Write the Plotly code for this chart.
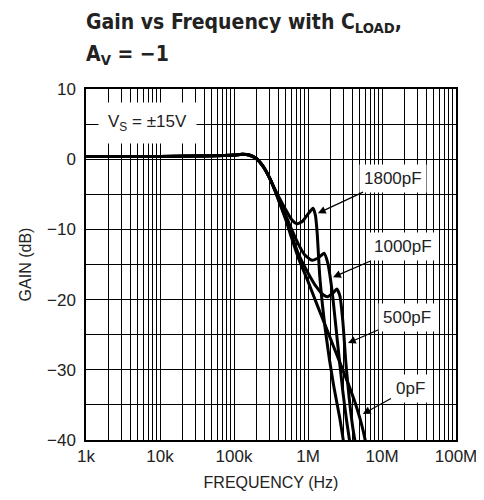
import math
import plotly.graph_objects as go

# ---- data ----
f_0 = [1e3, 1e4, 3e4, 1e5, 1.3e5, 1.6e5, 2e5, 2.5e5, 3e5, 3.5e5, 4e5, 5e5, 6e5, 7.5e5,
       1e6, 1.3e6, 1.7e6, 2.2e6, 2.8e6, 3.5e6, 4.3e6, 5e6, 5.6e6, 6.2e6]
g_0 = [0.4, 0.4, 0.45, 0.6, 0.7, 0.6, 0.1, -1.1, -2.6, -4.2, -5.8, -8.6, -11.2, -14.2,
       -17.4, -20.5, -23.6, -26.6, -29.4, -32.0, -34.6, -36.8, -38.8, -41.0]

f_500 = [1e3, 1e4, 3e4, 1e5, 1.3e5, 1.6e5, 2e5, 2.5e5, 3e5, 3.5e5, 4e5, 5e5, 6e5, 7.5e5,
         1e6, 1.3e6, 1.6e6, 1.85e6, 2.2e6, 2.45e6, 2.7e6, 2.95e6, 3.25e6, 3.6e6, 4.0e6, 4.45e6]
g_500 = [0.4, 0.4, 0.45, 0.6, 0.7, 0.6, 0.1, -1.1, -2.6, -4.2, -5.8, -8.4, -10.8, -13.6,
         -16.2, -18.2, -19.3, -19.6, -19.0, -18.5, -19.5, -23.0, -29.0, -34.0, -38.0, -41.0]

f_1000 = [1e3, 1e4, 3e4, 1e5, 1.3e5, 1.6e5, 2e5, 2.5e5, 3e5, 3.5e5, 4e5, 5e5, 6e5, 7.5e5,
          9e5, 1.13e6, 1.4e6, 1.65e6, 1.85e6, 2.1e6, 2.5e6, 2.95e6, 3.3e6, 3.75e6]
g_1000 = [0.4, 0.4, 0.45, 0.6, 0.7, 0.6, 0.1, -1.1, -2.6, -4.2, -5.6, -8.0, -10.0, -12.2,
          -13.6, -14.4, -14.0, -13.4, -14.8, -18.5, -26.0, -33.0, -37.0, -41.0]

f_1800 = [1e3, 1e4, 3e4, 1e5, 1.3e5, 1.6e5, 2e5, 2.5e5, 3e5, 3.5e5, 4e5, 5e5, 6e5, 7.1e5,
          8.5e5, 1e6, 1.17e6, 1.26e6, 1.33e6, 1.45e6, 1.75e6, 2.2e6, 2.7e6, 3.1e6]
g_1800 = [0.4, 0.4, 0.45, 0.6, 0.7, 0.6, 0.1, -1.1, -2.6, -4.1, -5.3, -7.2, -8.6, -9.2,
          -8.8, -7.8, -7.0, -8.0, -10.5, -17.0, -25.0, -32.0, -37.0, -41.0]

series = [("0pF", f_0, g_0), ("500pF", f_500, g_500),
          ("1000pF", f_1000, g_1000), ("1800pF", f_1800, g_1800)]

# label text position (Hz, dB) and arrow tip (Hz, dB)
label_names = ["1800pF", "1000pF", "500pF", "0pF"]
label_f = [14.1e6, 19.2e6, 21.8e6, 23.9e6]
label_g = [-2.7, -12.5, -22.5, -32.6]
tip_f = [1.36e6, 2.18e6, 3.47e6, 5.5e6]
tip_g = [-7.7, -16.8, -26.2, -36.3]

x_major = [1e3, 1e4, 1e5, 1e6, 1e7, 1e8]
x_major_text = ["1k", "10k", "100k", "1M", "10M", "100M"]
y_ticks = [10, 5, 0, -5, -10, -15, -20, -25, -30, -35, -40]
y_text = ["10", "", "0", "", "\u221210", "", "\u221220", "", "\u221230", "", "\u221240"]

title_line1 = "<b>Gain vs Frequency with C<sub>LOAD</sub>,</b>"
title_line2 = "<b>A<sub>V</sub> = \u22121</b>"

# ---- figure ----
x_tickvals, x_ticktext = [], []
for i, d in enumerate(x_major):
    x_tickvals.append(d)
    x_ticktext.append(x_major_text[i])
    if i < len(x_major) - 1:
        for m in range(2, 10):
            x_tickvals.append(d * m)
            x_ticktext.append("")

fig = go.Figure()
for name, fx, gy in series:
    fig.add_trace(go.Scatter(x=fx, y=gy, mode="lines", name=name,
                             line=dict(color="black", width=3, shape="spline", smoothing=0.6),
                             showlegend=False))

FONT = "Liberation Sans, Arial, sans-serif"
TFONT = "DejaVu Sans Condensed, sans-serif"

# page body has an 8px margin: target plot area x 86..456, y 89..440 on screen
L, T, R, B = 78, 81, 36, 68
PW, PH = 484 - L - R, 500 - T - B

def px_to_paper(px, py):
    return (px - 8 - L) / PW, 1 - (py - 8 - T) / PH

annotations = []
for n, lf, lg, tf, tg in zip(label_names, label_f, label_g, tip_f, tip_g):
    annotations.append(dict(
        x=math.log10(tf), y=tg, xref="x", yref="y",
        ax=math.log10(lf), ay=lg, axref="x", ayref="y",
        text=n, showarrow=True, arrowhead=2, arrowsize=1.3, arrowwidth=1.2,
        arrowcolor="black", bgcolor="white", borderpad=4,
        font=dict(family=FONT, size=17, color="#222")))

annotations.append(dict(
    x=math.log10(6.88e3), y=5.16, xref="x", yref="y", showarrow=False,
    text="V<sub>S</sub> = \u00b115V", bgcolor="white", borderpad=9,
    font=dict(family=FONT, size=17, color="#222")))

for txt, (tx, ty) in [(title_line1, px_to_paper(84, 23)), (title_line2, px_to_paper(84, 55))]:
    annotations.append(dict(
        x=tx, y=ty, xref="paper", yref="paper", xanchor="left", yanchor="middle",
        showarrow=False, text=txt,
        font=dict(family=TFONT, size=21, color="#222")))

fig.update_layout(
    width=484, height=500,
    margin=dict(l=L, r=R, t=T, b=B, autoexpand=False),
    paper_bgcolor="white", plot_bgcolor="white",
    annotations=annotations,
    xaxis=dict(type="log", range=[3, 8], tickvals=x_tickvals, ticktext=x_ticktext,
               showgrid=True, gridcolor="black", gridwidth=1, ticks="",
               showline=True, mirror=True, linecolor="black", linewidth=1.5,
               tickfont=dict(family=FONT, size=17, color="#222"),
               title=dict(text="FREQUENCY (Hz)", standoff=12,
                          font=dict(family=FONT, size=16, color="#222")),
               zeroline=False),
    yaxis=dict(range=[-40, 10], tickvals=y_ticks, ticktext=y_text,
               showgrid=True, gridcolor="black", gridwidth=1, ticks="",
               showline=True, mirror=True, linecolor="black", linewidth=1.5,
               tickfont=dict(family=FONT, size=17, color="#222"),
               ticklabelstandoff=5,
               title=dict(text="GAIN (dB)", standoff=11,
                          font=dict(family=FONT, size=16, color="#222")),
               zeroline=False),
)

fig.write_html("out.html")
